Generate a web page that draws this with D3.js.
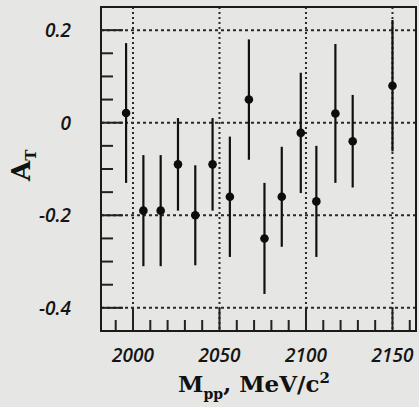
<!DOCTYPE html>
<html>
<head>
<meta charset="utf-8">
<script src="https://cdn.jsdelivr.net/npm/d3@7"></script>
<style>
  body { margin: 0; background: #e6e6e4; }
  svg { display: block; }
  .tick-label { font-family: "Open Sans", sans-serif; font-style: italic; font-weight: 600; font-size: 19px; fill: #151515; }
  .axis-title { font-family: "DejaVu Serif", serif; font-weight: bold; fill: #111; }
</style>
</head>
<body>
<svg id="chart" width="419" height="407"></svg>
<script>
// mass bins (MeV/c^2), asymmetry and its error
const masses = [1996, 2006, 2016, 2026, 2036, 2046, 2056, 2067, 2076, 2086, 2097, 2106, 2117, 2127, 2150];
const asym   = [0.021, -0.19, -0.19, -0.09, -0.20, -0.09, -0.16, 0.05, -0.25, -0.16, -0.022, -0.17, 0.02, -0.04, 0.08];
const errs   = [0.151, 0.12, 0.12, 0.10, 0.108, 0.10, 0.13, 0.13, 0.12, 0.108, 0.13, 0.12, 0.15, 0.10, 0.142];

const xMajor = [2000, 2050, 2100, 2150];
const xMinor = [1990, 2010, 2020, 2030, 2040, 2060, 2070, 2080, 2090, 2110, 2120, 2130, 2140, 2160];
const yMajor = [0.2, 0, -0.2, -0.4];
const yMinor = [0.15, 0.1, 0.05, -0.05, -0.1, -0.15, -0.25, -0.3, -0.35];
const yLabels = ["0.2", "0", "-0.2", "-0.4"];

function whenDocumentLoaded(action) {
  if (document.readyState === "loading") {
    document.addEventListener("DOMContentLoaded", action);
  } else {
    action();
  }
}

whenDocumentLoaded(() => {
  const svg = d3.select('#chart');
  const left = 101, right = 416, top = 7, bottom = 331;

  const x = d3.scaleLinear().domain([1981.5, 2163.6]).range([left, right]);
  const y = d3.scaleLinear().domain([-0.45, 0.25]).range([bottom, top]);

  const data = masses.map((m, i) => ({ m: m, a: asym[i], e: errs[i] }));

  // dashed grid
  svg.selectAll('line.hgrid')
     .data(yMajor)
     .enter()
     .append('line')
     .attr('x1', left).attr('x2', right)
     .attr('y1', d => y(d)).attr('y2', d => y(d))
     .attr('stroke', '#2a2a2a').attr('stroke-width', 2)
     .attr('stroke-dasharray', '3,3');

  svg.selectAll('line.vgrid')
     .data(xMajor)
     .enter()
     .append('line')
     .attr('x1', d => x(d)).attr('x2', d => x(d))
     .attr('y1', top).attr('y2', bottom)
     .attr('stroke', '#2a2a2a').attr('stroke-width', 2)
     .attr('stroke-dasharray', '2,3');

  // ticks on the left and bottom
  svg.selectAll('line.ymaj').data(yMajor).enter().append('line')
     .attr('x1', left).attr('x2', left + 22)
     .attr('y1', d => y(d)).attr('y2', d => y(d))
     .attr('stroke', '#222').attr('stroke-width', 2);
  svg.selectAll('line.ymin').data(yMinor).enter().append('line')
     .attr('x1', left).attr('x2', left + 12)
     .attr('y1', d => y(d)).attr('y2', d => y(d))
     .attr('stroke', '#222').attr('stroke-width', 2);
  svg.selectAll('line.xmaj').data(xMajor).enter().append('line')
     .attr('x1', d => x(d)).attr('x2', d => x(d))
     .attr('y1', bottom).attr('y2', bottom - 23)
     .attr('stroke', '#222').attr('stroke-width', 2);
  svg.selectAll('line.xmin').data(xMinor).enter().append('line')
     .attr('x1', d => x(d)).attr('x2', d => x(d))
     .attr('y1', bottom).attr('y2', bottom - 11)
     .attr('stroke', '#222').attr('stroke-width', 2);

  // frame
  svg.append('rect')
     .attr('x', left).attr('y', top)
     .attr('width', right - left).attr('height', bottom - top)
     .attr('fill', 'none').attr('stroke', '#1a1a1a').attr('stroke-width', 2);

  // error bars and points
  svg.selectAll('line.err')
     .data(data)
     .enter()
     .append('line')
     .attr('x1', d => x(d.m)).attr('x2', d => x(d.m))
     .attr('y1', d => y(d.a + d.e)).attr('y2', d => y(d.a - d.e))
     .attr('stroke', '#111').attr('stroke-width', 2.2);

  svg.selectAll('circle')
     .data(data)
     .enter()
     .append('circle')
     .attr('cx', d => x(d.m))
     .attr('cy', d => y(d.a))
     .attr('r', 4.3)
     .attr('fill', '#0d0d0d');

  // tick labels
  svg.selectAll('text.ylab')
     .data(yMajor)
     .enter()
     .append('text')
     .classed('tick-label', true)
     .attr('x', 71)
     .attr('y', d => y(d) + 7)
     .attr('text-anchor', 'end')
     .text((d, i) => yLabels[i]);

  svg.selectAll('text.xlab')
     .data(xMajor)
     .enter()
     .append('text')
     .classed('tick-label', true)
     .attr('x', d => x(d))
     .attr('y', 362)
     .attr('text-anchor', 'middle')
     .text(d => d);

  // axis titles
  const xt = svg.append('text')
     .classed('axis-title', true)
     .attr('x', 254).attr('y', 392)
     .attr('text-anchor', 'middle')
     .style('font-size', '23px');
  xt.append('tspan').text('M');
  xt.append('tspan').attr('dy', 7).style('font-size', '14px').text('pp');
  xt.append('tspan').attr('dy', -7).text(', MeV/c');
  xt.append('tspan').attr('dy', -9).style('font-size', '15px').text('2');

  const yt = svg.append('text')
     .classed('axis-title', true)
     .attr('transform', 'translate(30,181) rotate(-90)')
     .style('font-size', '26px');
  yt.append('tspan').text('A');
  yt.append('tspan').attr('dy', 6).style('font-size', '15px').text('T');
});
</script>
</body>
</html>
